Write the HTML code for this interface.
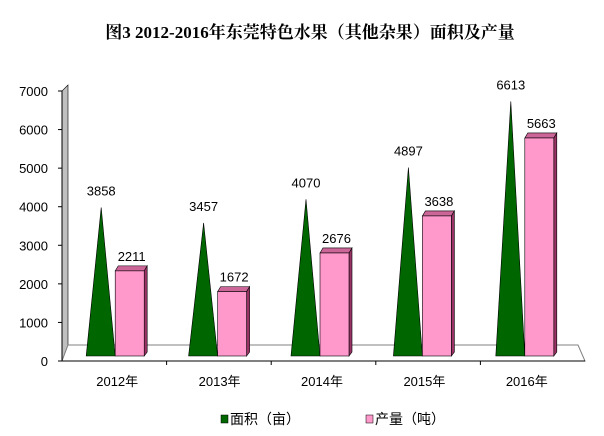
<!DOCTYPE html>
<html><head><meta charset="utf-8"><style>
body{margin:0;background:#fff;}
svg{display:block;font-family:"Liberation Sans","Noto Sans CJK SC",sans-serif;}
</style></head><body>
<svg width="604" height="436" viewBox="0 0 604 436">
<text x="310" y="38" text-anchor="middle" font-size="17" font-family="Liberation Serif, Noto Serif CJK SC, serif" font-weight="bold" fill="#000">图3 2012-2016年东莞特色水果（其他杂果）面积及产量</text>
<g id="axes"></g>
<g id="marks"></g>
<g>
<rect x="221" y="415" width="7" height="8" fill="#006600" stroke="#000" stroke-width="0.5"/>
<text x="230" y="424" font-size="14">面积（亩）</text>
<rect x="366" y="415" width="7" height="8" fill="#ff99cc" stroke="#000" stroke-width="0.5"/>
<text x="375" y="424" font-size="14">产量（吨）</text>
</g>
</svg>
<script>
const categories=["2012年","2013年","2014年","2015年","2016年"];
const areaValues=[3858,3457,4070,4897,6613];
const outputValues=[2211,1672,2676,3638,5663];
const yTicks=[0,1000,2000,3000,4000,5000,6000,7000];
const NS="http://www.w3.org/2000/svg";
const x0=66,x1=578,base=356;
function yScale(v){return base-v*0.0385;}
function tickY(v){return 361-v*(270/7000);}
function xCenter(i){return x0+(x1-x0)/categories.length*(i+0.5);}
function mk(tag,attrs,parent){const e=document.createElementNS(NS,tag);for(const k in attrs)e.setAttribute(k,attrs[k]);parent.appendChild(e);return e;}
const axes=document.getElementById('axes'),marks=document.getElementById('marks');
// back wall
const wall=mk('polygon',{points:"62,361 62,91 68,85 68,345",fill:"#c0c0c0",stroke:"#000","stroke-width":"0.6"},axes);


const floor=mk('polygon',{points:"62,361 68,345 578,345 585,361",fill:"#fff",stroke:"#808080","stroke-width":"1"},axes);


mk('line',{x1:62,y1:361,x2:585,y2:361,stroke:"#000","stroke-width":"1"},axes);
mk('line',{x1:62,y1:361,x2:62,y2:91,stroke:"#000","stroke-width":"1"},axes);
yTicks.forEach(v=>{
 const y=tickY(v);
 mk('line',{x1:58,y1:y,x2:62,y2:y,stroke:"#000"},axes);
 const t=mk('text',{x:48,y:y+5,"text-anchor":"end","font-size":"13"},axes);
 t.textContent=v;
 
 
});
for(let i=1;i<categories.length;i++){const x=62+(585-62)/categories.length*i;mk('line',{x1:x,y1:361,x2:x,y2:365,stroke:"#000"},axes);}
categories.forEach((c,i)=>{
 const cx=xCenter(i);
 const t=mk('text',{x:cx,y:386,"text-anchor":"middle","font-size":"13",fill:"#000"},axes);
 t.textContent=c;
 
 
 // cone
 const ty=yScale(areaValues[i]);
 const cone=mk('polygon',{points:`${cx-31},${base} ${cx-2},${base} ${cx-16},${ty}`,fill:"#006600",stroke:"#000","stroke-width":"0.6"},marks);
 
 
 const la=mk('text',{x:cx-16,y:ty-12,"text-anchor":"middle","font-size":"13"},marks);
 la.textContent=areaValues[i];
 
 
 // bar
 const by=yScale(outputValues[i]);
 const bx=cx-2,bw=29;
 const top=mk('polygon',{points:`${bx},${by} ${bx+3},${by-5} ${bx+bw+3},${by-5} ${bx+bw},${by}`,fill:"#cc6699",stroke:"#000","stroke-width":"0.6"},marks);
 
 
 const side=mk('polygon',{points:`${bx+bw},${by} ${bx+bw+3},${by-5} ${bx+bw+3},${base-4} ${bx+bw},${base}`,fill:"#993366",stroke:"#000","stroke-width":"0.6"},marks);
 
 
 const bar=mk('rect',{x:bx,y:by,width:bw,height:base-by,fill:"#ff99cc",stroke:"#000","stroke-width":"0.6"},marks);
 
 
 const lb=mk('text',{x:bx+bw/2+2,y:by-10,"text-anchor":"middle","font-size":"13"},marks);
 lb.textContent=outputValues[i];
 
 
});
</script>
</body></html>
